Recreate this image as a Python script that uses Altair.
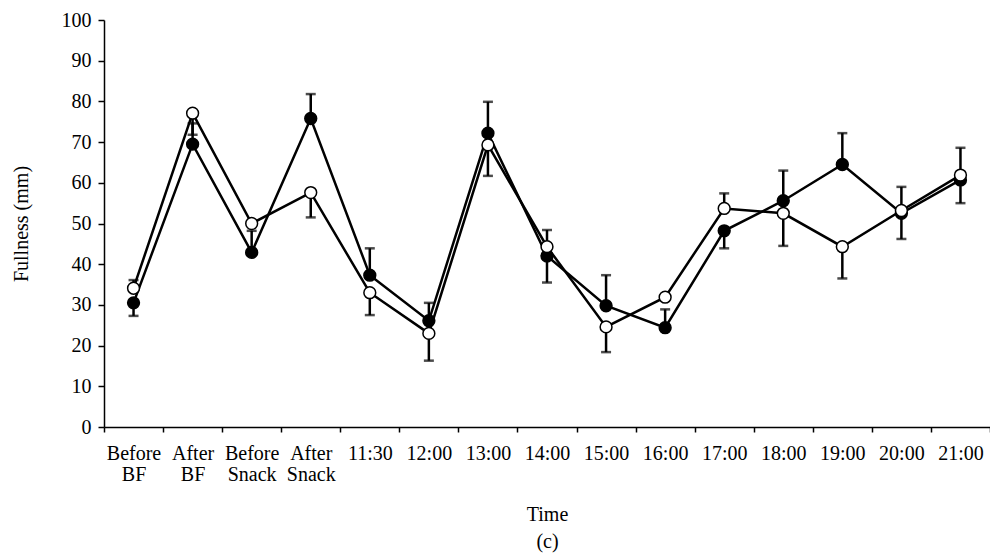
import altair as alt
import pandas as pd

categories = ["Before BF", "After BF", "Before Snack", "After Snack", "11:30", "12:00",
              "13:00", "14:00", "15:00", "16:00", "17:00", "18:00", "19:00", "20:00", "21:00"]
filled_vals = [30.5, 69.5, 42.9, 75.8, 37.3, 26.1, 72.2, 42.0, 29.8, 24.4, 48.2, 55.6, 64.5, 52.5, 60.7]
filled_bar_end = [27.3, 74.6, 48.2, 81.8, 43.9, 30.5, 79.9, 35.5, 37.3, 28.9, 43.9, 63.0, 72.2, 46.2, 55.0]
open_vals = [34.1, 77.1, 50.0, 57.6, 33.0, 23.0, 69.3, 44.3, 24.6, 31.9, 53.7, 52.5, 44.3, 53.2, 61.9]
open_bar_end = [36.1, 71.8, 50.0, 51.5, 27.5, 16.3, 61.7, 48.4, 18.4, 31.9, 57.4, 44.5, 36.5, 59.0, 68.6]

rows = []
for i, c in enumerate(categories):
    rows.append({"cat": c, "series": "filled", "v": filled_vals[i], "e": filled_bar_end[i]})
for i, c in enumerate(categories):
    rows.append({"cat": c, "series": "open", "v": open_vals[i], "e": open_bar_end[i]})
df = pd.DataFrame(rows)

FONT = "Liberation Serif"

x_enc = alt.X("cat:N", sort=categories,
              scale=alt.Scale(type="band", paddingInner=0, paddingOuter=0),
              axis=alt.Axis(title=["Time", "(c)"], labelAngle=0, tickBand="extent",
                            labelExpr="split(datum.label, ' ')", labelLineHeight=21,
                            labelAlign="center", labelPadding=11, tickSize=5,
                            titlePadding=20, titleLineHeight=27,
                            labelBaseline="top"))
y_scale = alt.Scale(domain=[0, 100], nice=False)
y_axis = alt.Axis(title="Fullness (mm)", values=list(range(0, 101, 10)), tickSize=6,
                  labelPadding=7, titlePadding=30, grid=False)

base = alt.Chart(df)

lines = base.mark_line(color="black", strokeWidth=2.5).encode(
    x=x_enc,
    y=alt.Y("v:Q", scale=y_scale, axis=y_axis),
    detail="series:N",
)

bars = base.mark_rule(color="black", strokeWidth=2.5).encode(
    x=alt.X("cat:N", sort=categories),
    y="v:Q",
    y2="e:Q",
)

caps = base.mark_tick(color="black", thickness=2.5, size=10, orient="horizontal").encode(
    x=alt.X("cat:N", sort=categories),
    y="e:Q",
)

points = base.mark_point(filled=True, size=140, stroke="black", strokeWidth=1.5, opacity=1).encode(
    x=alt.X("cat:N", sort=categories),
    y="v:Q",
    fill=alt.Fill("series:N", scale=alt.Scale(domain=["filled", "open"], range=["black", "white"]),
                  legend=None),
)

chart = alt.layer(bars, caps, lines, points).properties(
    width=886, height=407,
    autosize=alt.AutoSizeParams(type="none"),
    padding={"left": 96, "top": 12, "right": 0, "bottom": 128},
).configure_view(stroke=None).configure_axis(
    labelFont=FONT, titleFont=FONT, labelFontSize=20, titleFontSize=20,
    labelColor="black", titleColor="black", titleFontWeight="normal",
    domainColor="black", tickColor="black", domainWidth=1.5, tickWidth=1.5, grid=False,
)

chart.save("out.html", embed_options={"renderer": "svg", "actions": False})
